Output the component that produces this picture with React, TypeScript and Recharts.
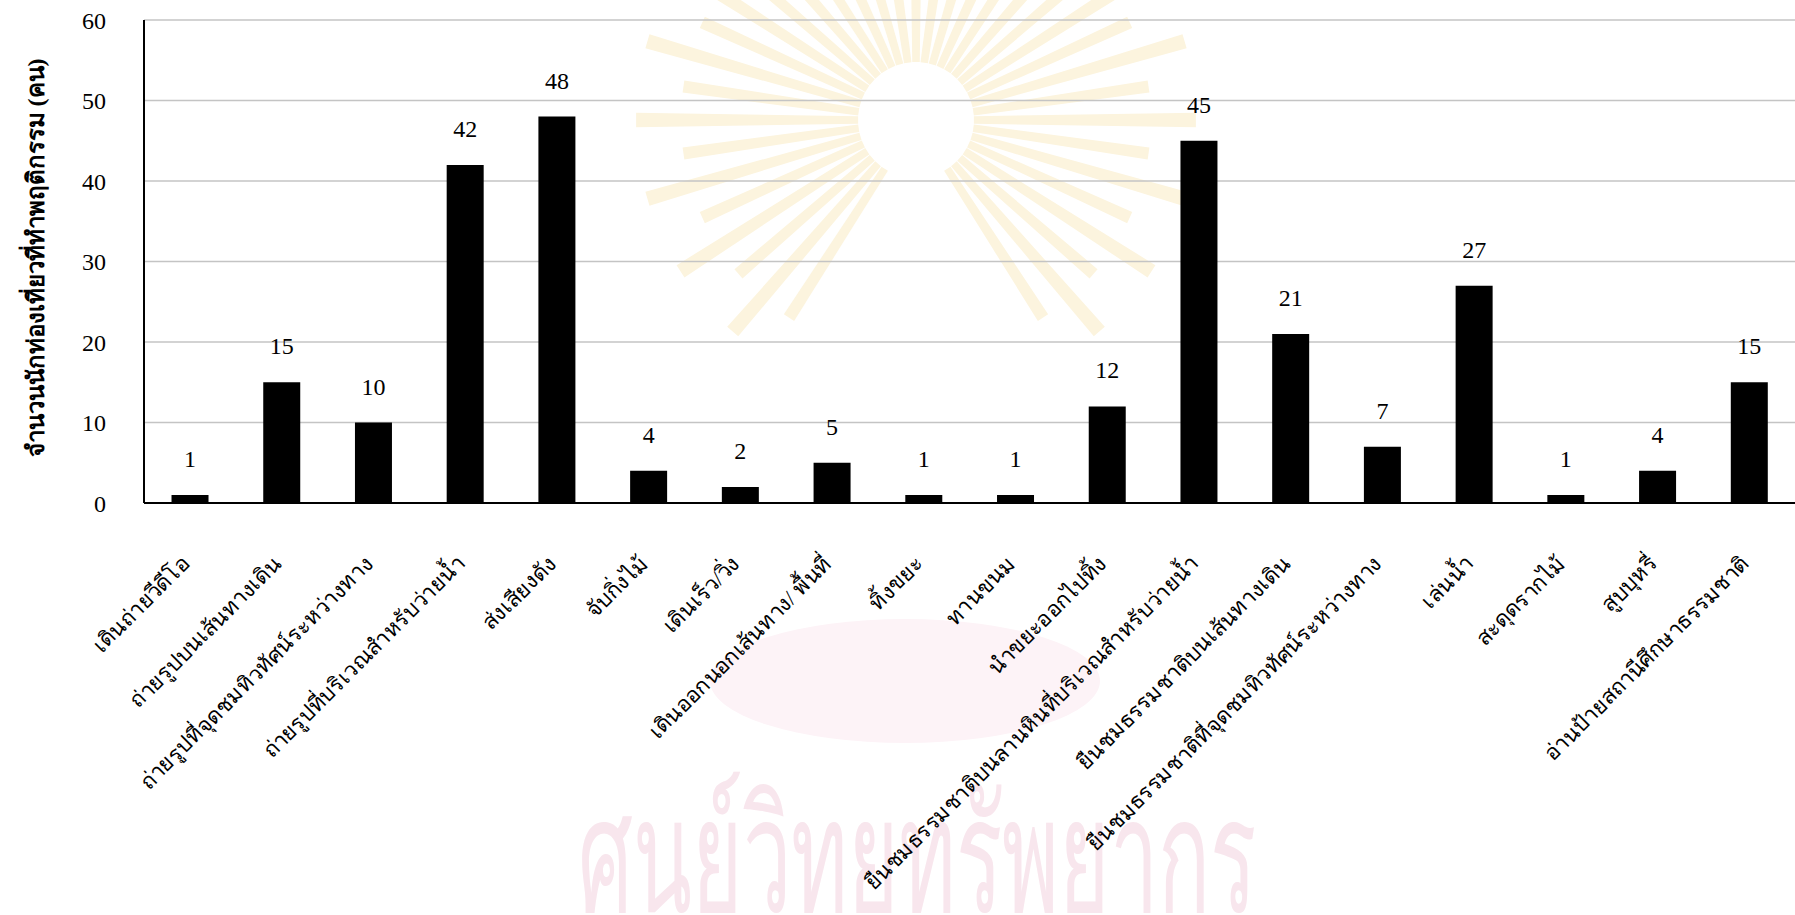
import { Bar, BarChart, CartesianGrid, LabelList, XAxis, YAxis } from "recharts";

const CATEGORIES = [
  "เดินถ่ายวีดีโอ",
  "ถ่ายรูปบนเส้นทางเดิน",
  "ถ่ายรูปที่จุดชมทิวทัศน์ระหว่างทาง",
  "ถ่ายรูปที่บริเวณสำหรับว่ายน้ำ",
  "ส่งเสียงดัง",
  "จับกิ่งไม้",
  "เดินเร็ว/วิ่ง",
  "เดินออกนอกเส้นทาง/ พื้นที่",
  "ทิ้งขยะ",
  "ทานขนม",
  "นำขยะออกไปทิ้ง",
  "ยืนชมธรรมชาติบนลานหินที่บริเวณสำหรับว่ายน้ำ",
  "ยืนชมธรรมชาติบนเส้นทางเดิน",
  "ยืนชมธรรมชาติที่จุดชมทิวทัศน์ระหว่างทาง",
  "เล่นน้ำ",
  "สะดุดรากไม้",
  "สูบบุหรี่",
  "อ่านป้ายสถานีศึกษาธรรมชาติ",
];

const COUNTS = [1, 15, 10, 42, 48, 4, 2, 5, 1, 1, 12, 45, 21, 7, 27, 1, 4, 15];

const Y_TICKS = [0, 10, 20, 30, 40, 50, 60];

const Y_TITLE = "จำนวนนักท่องเที่ยวที่ทำพฤติกรรม (คน)";
const WATERMARK = "ศูนย์วิทยทรัพยากร";

const chartData = CATEGORIES.map((name, i) => ({ name, count: COUNTS[i] }));

const SERIF = "Liberation Serif, Times New Roman, serif";

function CategoryTick({ x, y, payload }: any) {
  const ax = x + 1;
  const ay = y + 62;
  return (
    <text
      x={ax}
      y={ay}
      transform={`rotate(-45, ${ax}, ${ay})`}
      textAnchor="end"
      fontSize={22}
      fontFamily={SERIF}
      fill="#000"
    >
      {payload.value}
    </text>
  );
}

function YTitle() {
  return (
    <text
      x={44}
      y={258}
      transform="rotate(-90, 44, 258)"
      textAnchor="middle"
      fontSize={24}
      fontWeight="bold"
      fontFamily={SERIF}
      fill="#000"
    >
      {Y_TITLE}
    </text>
  );
}

// faint scanned-page watermark (emblem rays + library name) behind the chart
function Watermark() {
  const cx = 916;
  const cy = 120;
  const rays = [];
  for (let i = 0; i < 44; i++) {
    const a = (i / 44) * Math.PI * 2;
    // leave the bottom open, the emblem's base sits there
    if (Math.sin(a) > 0.85) continue;
    const r0 = 58;
    const r1 = i % 2 === 0 ? 280 : 235;
    const w = 0.065;
    const p = [
      [cx + r0 * Math.cos(a - w), cy + r0 * Math.sin(a - w)],
      [cx + r1 * Math.cos(a - w * 0.4), cy + r1 * Math.sin(a - w * 0.4)],
      [cx + r1 * Math.cos(a + w * 0.4), cy + r1 * Math.sin(a + w * 0.4)],
      [cx + r0 * Math.cos(a + w), cy + r0 * Math.sin(a + w)],
    ];
    rays.push(
      <polygon key={i} points={p.map((q) => q.join(",")).join(" ")} fill="#fcf4de" />
    );
  }
  return (
    <svg width={1795} height={915} style={{ position: "absolute", left: 0, top: 0 }}>
      {rays}
      <ellipse cx={905} cy={681} rx={195} ry={62} fill="#fdf3f7" />
      <text
        x={0}
        y={0}
        transform="translate(578, 912) scale(0.54, 1)"
        fontSize={160}
        fontFamily="Noto Sans, sans-serif"
        fill="#f8e6ed"
      >
        {WATERMARK}
      </text>
    </svg>
  );
}

export default function App() {
  return (
    <div style={{ position: "relative", width: 1795, height: 915, overflow: "hidden", background: "#fff" }}>
      <style>{`body { margin: 0; }`}</style>
      <Watermark />
      <div style={{ position: "absolute", left: 0, top: 0 }}>
        <BarChart
          width={1795}
          height={915}
          data={chartData}
          margin={{ top: 20, right: 0, left: 0, bottom: 0 }}
          barCategoryGap="30%"
        >
          <CartesianGrid vertical={false} stroke="#c4c4c4" strokeWidth={1.5} />
          <XAxis
            dataKey="name"
            interval={0}
            height={412}
            tickLine={false}
            tickSize={0}
            tickMargin={0}
            axisLine={{ stroke: "#000", strokeWidth: 2 }}
            tick={<CategoryTick />}
          />
          <YAxis
            width={144}
            domain={[0, 60]}
            ticks={Y_TICKS}
            tickLine={false}
            tickSize={0}
            tickMargin={38}
            axisLine={{ stroke: "#000", strokeWidth: 2 }}
            tick={{ fontSize: 24, fill: "#000", fontFamily: SERIF }}
            label={<YTitle />}
          />
          <Bar dataKey="count" fill="#000" isAnimationActive={false}>
            <LabelList
              dataKey="count"
              position="top"
              offset={28}
              fill="#000"
              fontSize={24}
              fontFamily={SERIF}
            />
          </Bar>
        </BarChart>
      </div>
    </div>
  );
}
